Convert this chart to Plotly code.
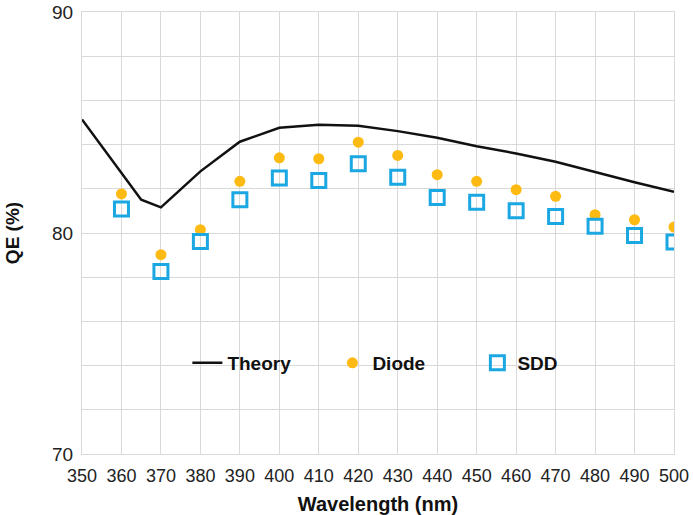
import plotly.graph_objects as go

theory_x = [350, 365, 370, 380, 390, 400, 410, 420, 430, 440, 450, 460, 470, 480, 490, 500]
theory_y = [85.14, 81.51, 81.16, 82.79, 84.13, 84.76, 84.90, 84.85, 84.61, 84.31, 83.93, 83.60, 83.22, 82.75, 82.30, 81.86]

wl = [360, 370, 380, 390, 400, 410, 420, 430, 440, 450, 460, 470, 480, 490, 500]
diode = [81.77, 79.02, 80.15, 82.34, 83.40, 83.36, 84.11, 83.51, 82.64, 82.34, 81.96, 81.66, 80.83, 80.60, 80.27]
sdd = [81.09, 78.26, 79.62, 81.51, 82.49, 82.37, 83.13, 82.52, 81.61, 81.39, 81.01, 80.75, 80.30, 79.89, 79.59]

x_ticks = list(range(350, 501, 10))
y_ticks = [70, 80, 90]

fig = go.Figure()
fig.add_trace(go.Scatter(x=theory_x, y=theory_y, mode="lines", name="Theory",
                         line=dict(color="#111111", width=2.5)))
fig.add_trace(go.Scatter(x=wl, y=diode, mode="markers", name="Diode",
                         marker=dict(symbol="circle", size=11, color="#FDBA12")))
fig.add_trace(go.Scatter(x=wl, y=sdd, mode="markers", name="SDD",
                         marker=dict(symbol="square-open", size=14, color="#1BA8E2",
                                     line=dict(width=3, color="#1BA8E2"))))

grid = "#d9d9d9"
fig.update_layout(
    width=693, height=515,
    margin=dict(l=82, r=19, t=12, b=61),
    paper_bgcolor="white", plot_bgcolor="white",
    font=dict(family="Liberation Sans, Arial, sans-serif", size=18, color="#222222"),
    showlegend=True,
    legend=dict(orientation="h", x=0.178, y=0.206, xanchor="left", yanchor="middle",
                bgcolor="rgba(0,0,0,0)", entrywidth=100, entrywidthmode="pixels",
                itemwidth=30, tracegroupgap=0,
                font=dict(family="Liberation Sans, Arial, sans-serif", size=19, color="#111111",
                          weight="bold")),
    xaxis=dict(range=[350, 500], tickvals=x_ticks, showgrid=True, gridcolor=grid, gridwidth=1,
               showline=True, linecolor=grid, mirror=True, zeroline=False, ticks="",
               automargin=False, ticklabelstandoff=5,
               tickfont=dict(size=18, color="#222222"),
               title=dict(text="<b>Wavelength (nm)</b>", standoff=18,
                          font=dict(size=20, color="#111111"))),
    yaxis=dict(range=[70, 90], tickvals=y_ticks, showgrid=True, gridcolor=grid, gridwidth=1,
               minor=dict(dtick=2, showgrid=True, gridcolor=grid, gridwidth=1),
               showline=True, linecolor=grid, mirror=True, zeroline=False, ticks="",
               automargin=False, ticklabelstandoff=4,
               tickfont=dict(size=19, color="#222222"),
               title=dict(text="<b>QE (%)</b>", standoff=27,
                          font=dict(size=19, color="#111111"))),
)

fig.write_html("out.html")
